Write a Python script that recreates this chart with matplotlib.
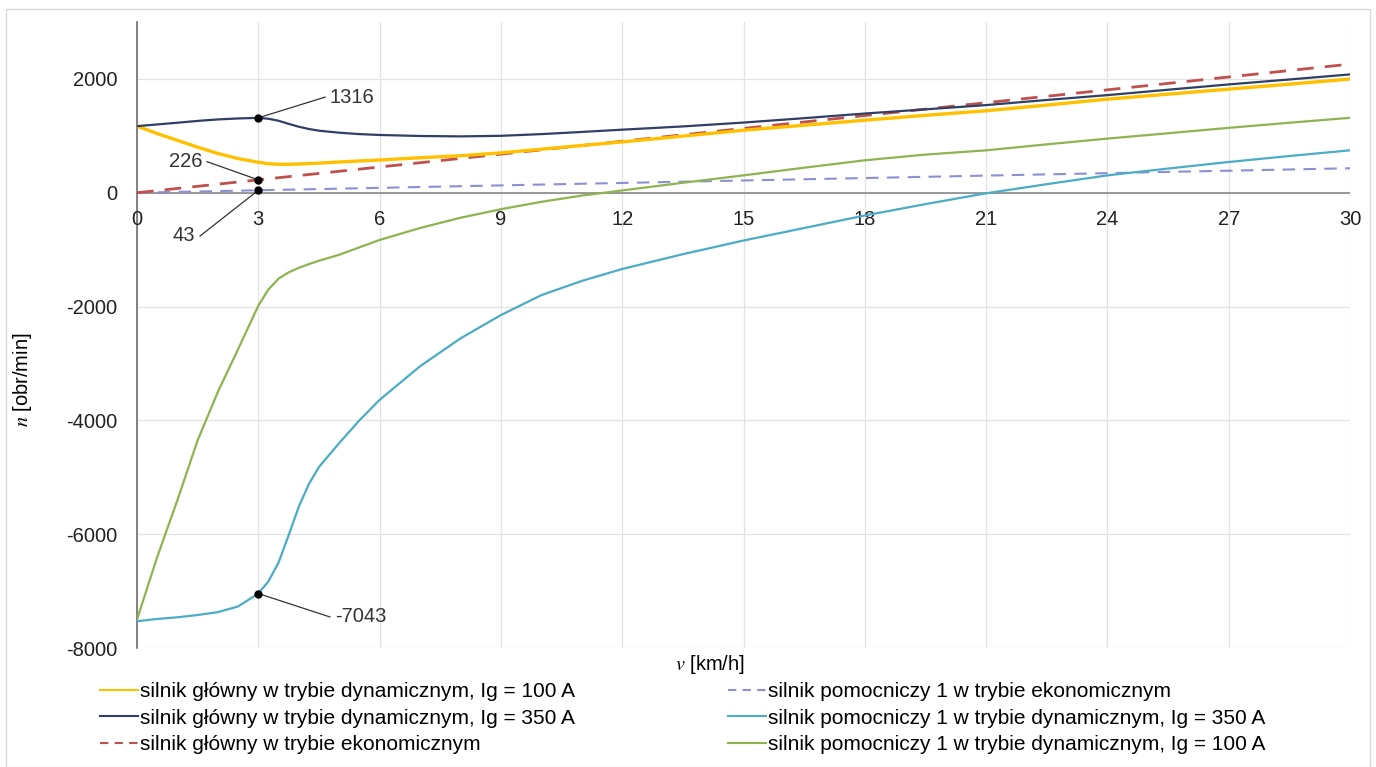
import matplotlib
matplotlib.use("Agg")
import matplotlib.pyplot as plt
from matplotlib.lines import Line2D
from matplotlib.patches import Rectangle

plt.rcParams['font.family'] = ['Liberation Sans', 'DejaVu Sans']
plt.rcParams['mathtext.fontset'] = 'stix'

# ---------------- data ----------------
v = [0, 0.5, 1, 1.5, 2, 2.5, 3, 3.25, 3.5, 3.75, 4, 4.25, 4.5, 5, 5.5, 6, 7, 8, 9,
     10, 11, 12, 13.5, 15, 16.5, 18, 19.5, 21, 22.5, 24, 25.5, 27, 28.5, 30]

main_dyn_100 = [1170, 1040, 920, 800, 690, 600, 535, 510, 500, 500, 505, 512, 520, 540,
                558, 575, 615, 650, 700, 765, 830, 893, 995, 1098, 1186, 1274, 1360,
                1440, 1540, 1644, 1732, 1820, 1908, 1997]
main_dyn_350 = [1170, 1200, 1230, 1262, 1288, 1305, 1316, 1300, 1265, 1210, 1160, 1120,
                1090, 1055, 1030, 1015, 997, 990, 1000, 1030, 1068, 1108, 1165, 1233,
                1310, 1392, 1465, 1540, 1630, 1715, 1810, 1903, 1990, 2079]
aux_dyn_350 = [-7530, -7490, -7460, -7420, -7370, -7270, -7043, -6830, -6500, -6020,
               -5520, -5120, -4820, -4400, -4000, -3640, -3050, -2560, -2150, -1800,
               -1550, -1340, -1080, -840, -620, -400, -200, -10, 150, 305, 425, 540,
               645, 745]
aux_dyn_100 = [-7500, -6400, -5400, -4350, -3500, -2750, -1985, -1700, -1510, -1400,
               -1320, -1255, -1195, -1090, -960, -830, -620, -440, -290, -160, -50, 40,
               175, 305, 440, 570, 670, 745, 850, 951, 1045, 1140, 1230, 1316]

v_econ = [0, 3, 30]
main_econ = [0, 226, 2260]
aux_econ = [0, 43, 430]

x_ticks = [0, 3, 6, 9, 12, 15, 18, 21, 24, 27, 30]
y_ticks = [-8000, -6000, -4000, -2000, 0, 2000]

# annotated points (v, n, label, leader end v, leader end n, ha)
ann_v = [3, 3, 3, 3]
ann_n = [1316, 226, 43, -7043]
ann_lbl = ["1316", "226", "43", "-7043"]
ann_tx = [4.65, 1.73, 1.56, 4.77]
ann_ty = [1680, 546, -760, -7454]
ann_ha = ["left", "right", "right", "left"]

labels_left = ["silnik główny w trybie dynamicznym, Ig = 100 A",
               "silnik główny w trybie dynamicznym, Ig = 350 A",
               "silnik główny w trybie ekonomicznym"]
labels_right = ["silnik pomocniczy 1 w trybie ekonomicznym",
                "silnik pomocniczy 1 w trybie dynamicznym, Ig = 350 A",
                "silnik pomocniczy 1 w trybie dynamicznym, Ig = 100 A"]

c_yellow = "#FFC000"
c_navy = "#2F3F66"
c_red = "#C0504D"
c_purple = "#8C8FD6"
c_teal = "#4BACC6"
c_green = "#8DB44F"

FS = 14.5

# ---------------- figure ----------------
W, H = 1376, 767
fig = plt.figure(figsize=(W / 100, H / 100), dpi=100)
fig.patches.append(Rectangle((6 / W, 0), (W - 12) / W, 1 - 9 / H, transform=fig.transFigure,
                             fill=False, edgecolor="#D9D9D9", linewidth=1.0))

ax = fig.add_axes([137 / W, 1 - 648 / H, (1350 - 137) / W, (648 - 22) / H])
ax.set_xlim(0, 30)
ax.set_ylim(-8000, 3000)

ax.set_xticks(x_ticks)
ax.set_yticks(y_ticks)
ax.grid(True, color="#E3E3E3", linewidth=0.9)
ax.set_axisbelow(True)
for s in ["top", "right", "bottom"]:
    ax.spines[s].set_visible(False)
ax.spines["left"].set_color("#6E6E6E")
ax.spines["left"].set_linewidth(1.2)
ax.axhline(0, color="#8A8A8A", linewidth=1.2, zorder=1.5)

ax.tick_params(axis="both", length=0, labelsize=FS, labelcolor="#222222")
ax.tick_params(axis="y", pad=14)
ax.set_yticklabels([str(t) for t in y_ticks])
# x tick labels drawn below zero line
ax.set_xticklabels([])
for t in x_ticks:
    ax.annotate(str(t), xy=(t, 0), xytext=(0, -19.5), textcoords="offset points",
                ha="center", va="center", fontsize=FS, color="#222222")

ax.plot(v_econ, aux_econ, color=c_purple, lw=1.5, dashes=(6, 4), zorder=3)
ax.plot(v_econ, main_econ, color=c_red, lw=2.0, dashes=(6, 4), zorder=3)
ax.plot(v, aux_dyn_100, color=c_green, lw=1.6, zorder=3)
ax.plot(v, aux_dyn_350, color=c_teal, lw=1.6, zorder=3)
ax.plot(v, main_dyn_100, color=c_yellow, lw=2.4, zorder=3)
ax.plot(v, main_dyn_350, color=c_navy, lw=1.6, zorder=4)

for x0, y0, lb, tx, ty, ha in zip(ann_v, ann_n, ann_lbl, ann_tx, ann_ty, ann_ha):
    ax.plot([x0, tx], [y0, ty], color="#333333", lw=0.9, zorder=5)
    ax.plot([x0], [y0], "o", color="black", ms=5, zorder=6)
    off = 0.12 if ha == "left" else -0.12
    ax.text(tx + off, ty, lb, ha=ha, va="center", fontsize=FS, color="#333333")

fig.text(710 / W, 1 - 665 / H, r"$v$ [km/h]", ha="center", va="center", fontsize=FS)
fig.text(22 / W, 1 - 380 / H, r"$n$ [obr/min]", ha="center", va="center",
         rotation=90, fontsize=FS)

h_left = [Line2D([], [], color=c_yellow, lw=1.5),
          Line2D([], [], color=c_navy, lw=1.5),
          Line2D([], [], color=c_red, lw=1.5, dashes=(4, 3))]
h_right = [Line2D([], [], color=c_purple, lw=1.5, dashes=(4, 3)),
           Line2D([], [], color=c_teal, lw=1.5),
           Line2D([], [], color=c_green, lw=1.5)]
leg_kw = dict(frameon=False, fontsize=15, handlelength=1.8, handletextpad=0.12,
              labelspacing=0.36, borderaxespad=0, borderpad=0)
l1 = fig.legend(h_left, labels_left, loc="upper left",
                bbox_to_anchor=(100 / W, 1 - 682 / H), **leg_kw)
l2 = fig.legend(h_right, labels_right, loc="upper left",
                bbox_to_anchor=(728 / W, 1 - 682 / H), **leg_kw)

fig.savefig("out.png", dpi=100)
